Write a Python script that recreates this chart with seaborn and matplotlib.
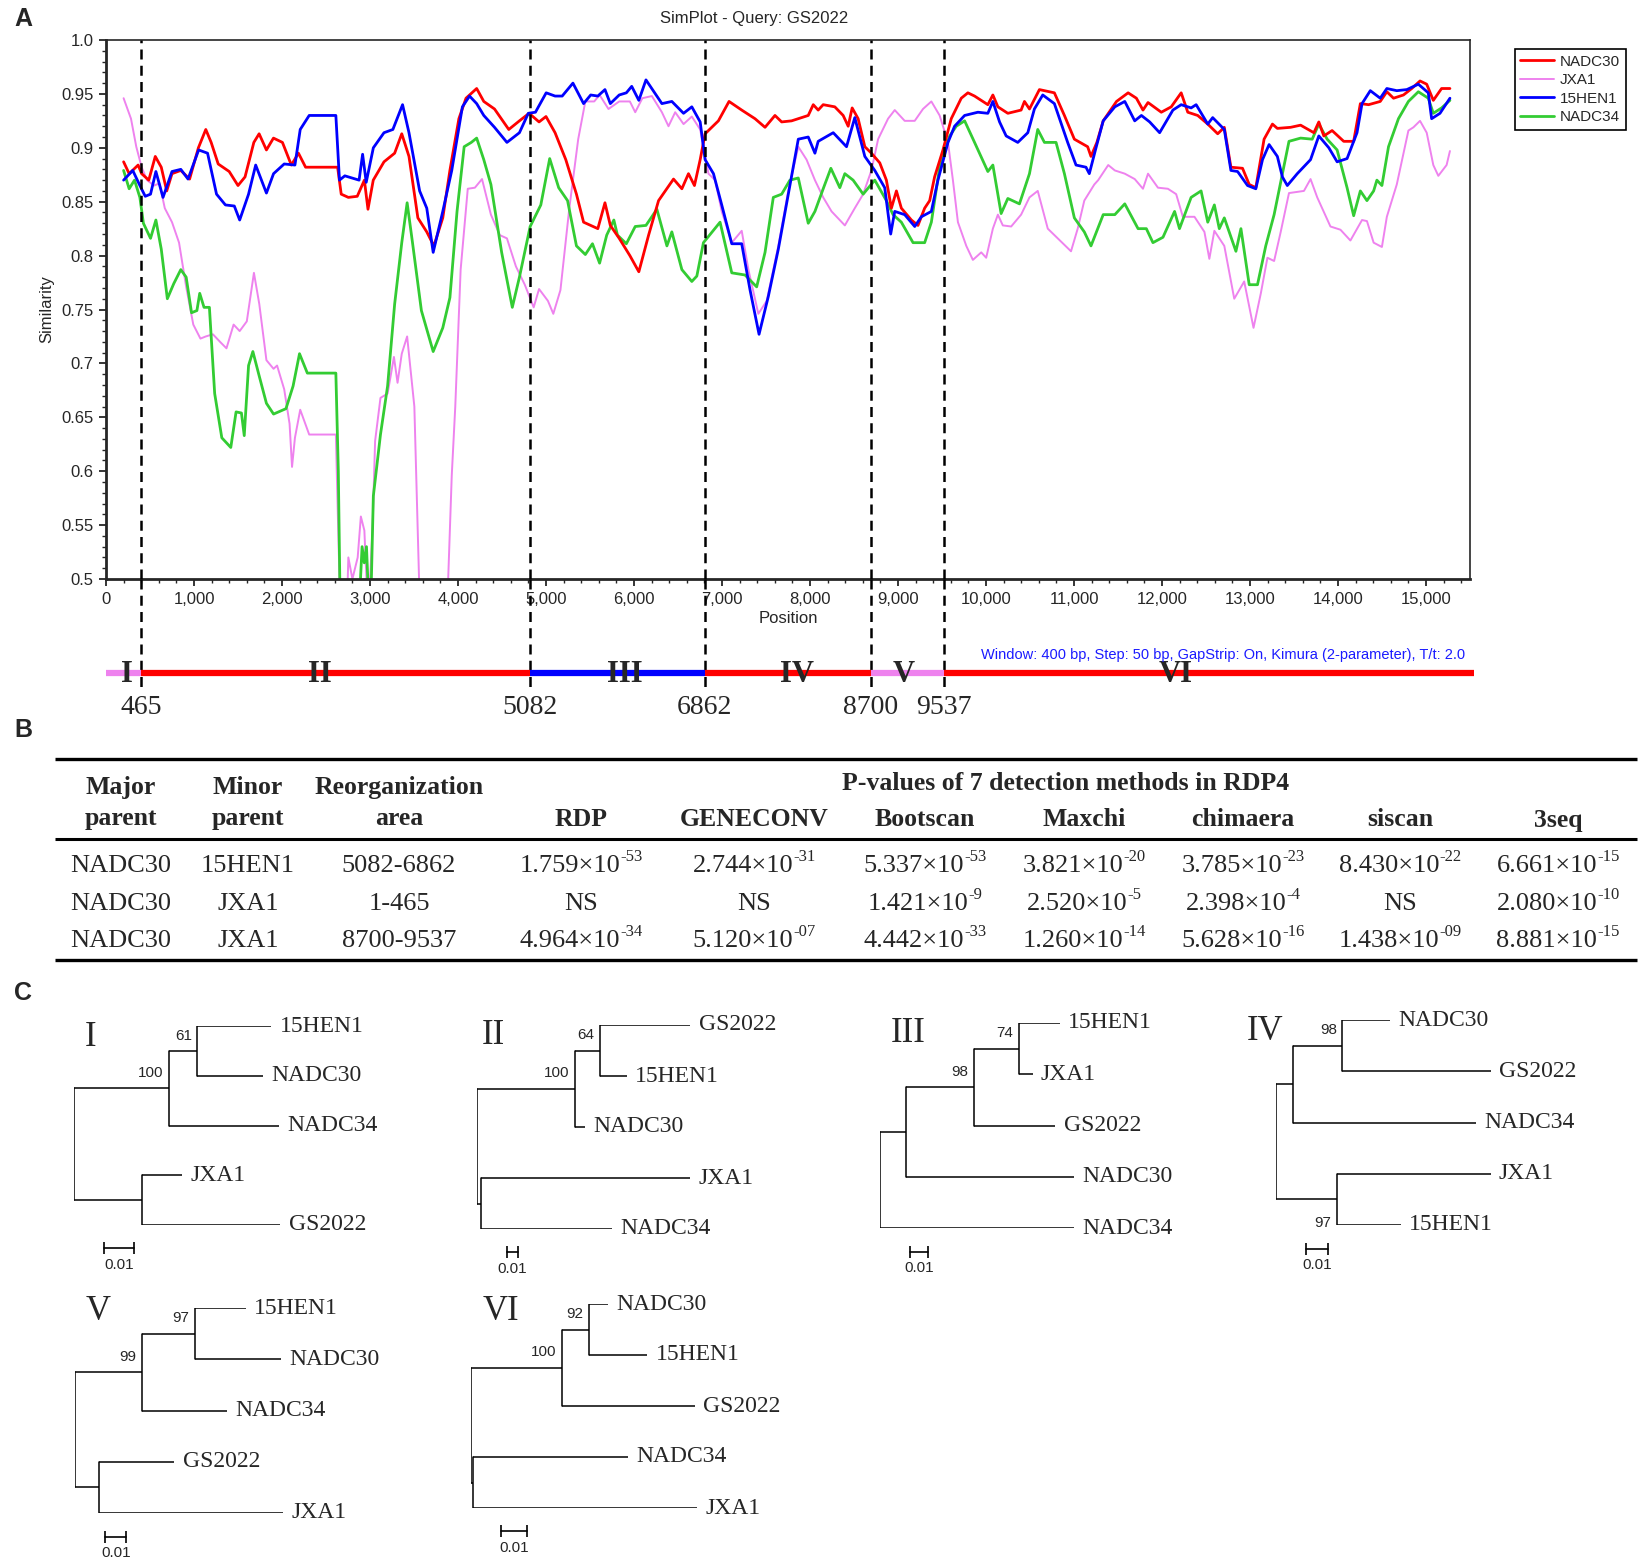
import matplotlib
matplotlib.use("Agg")
import matplotlib.pyplot as plt
from matplotlib.ticker import MultipleLocator, FuncFormatter
import pandas as pd
import seaborn as sns

# ---------------- panel A : SimPlot curves (position, similarity) ----------------
nadc30_pos = [200, 263, 365, 405, 486, 560, 628, 690, 750, 850, 950, 1050, 1134, 1195, 1275, 1400, 1500, 1580,
              1680, 1740, 1823, 1903, 2005, 2106, 2187, 2268, 2632, 2673, 2754, 2855, 2936, 2977, 3037, 3159,
              3280, 3361, 3443, 3544, 3645, 3726, 3827, 3908, 4010, 4091, 4212, 4293, 4415, 4577, 4698, 4808,
              4921, 5000, 5103, 5225, 5346, 5427, 5589, 5670, 5731, 5832, 5953, 6055, 6166, 6279, 6449, 6544,
              6619, 6687, 6752, 6808, 6959, 7080, 7224, 7375, 7489, 7602, 7678, 7791, 7980, 8037, 8093, 8150,
              8282, 8377, 8434, 8479, 8547, 8623, 8698, 8793, 8868, 8925, 8982, 9038, 9152, 9227, 9303, 9360,
              9416, 9511, 9605, 9719, 9794, 9870, 10021, 10078, 10135, 10248, 10399, 10437, 10494, 10607,
              10777, 10891, 11004, 11155, 11193, 11260, 11332, 11483, 11615, 11709, 11784, 11841, 11992,
              12105, 12218, 12293, 12406, 12520, 12633, 12708, 12783, 12915, 12991, 13066, 13160, 13255,
              13311, 13462, 13575, 13726, 13782, 13839, 13933, 14065, 14178, 14254, 14348, 14480, 14555,
              14631, 14744, 14838, 14932, 15008, 15083, 15177, 15272]
nadc30_sim = [.887, .876, .884, .876, .870, .892, .882, .860, .876, .879, .871, .900, .917, .905, .885, .878, .865, .873,
              .905, .913, .898, .909, .905, .884, .895, .882, .882, .857, .854, .855, .870, .843, .870, .887,
              .895, .913, .892, .835, .822, .809, .835, .879, .927, .946, .955, .943, .936, .917, .925, .932,
              .924, .929, .914, .889, .857, .831, .825, .849, .828, .816, .800, .785, .819, .851, .871, .862,
              .876, .865, .889, .913, .925, .943, .935, .927, .919, .930, .924, .925, .930, .940, .935, .940,
              .938, .930, .920, .937, .927, .901, .895, .886, .870, .844, .860, .844, .833, .828, .844, .851,
              .873, .898, .927, .946, .951, .948, .940, .949, .938, .932, .935, .943, .936, .954,
              .951, .930, .908, .901, .892, .905, .925, .943, .951, .946, .935, .942, .933,
              .938, .951, .933, .930, .922, .913, .919, .882, .881, .866, .863, .908, .922,
              .918, .919, .921, .914, .924, .911, .916, .906, .906, .941, .940, .943, .952,
              .946, .949, .955, .962, .959, .944, .955, .955]

jxa1_pos = [200, 284, 344, 405, 466, 547, 608, 668, 750, 830, 911, 992, 1073, 1134, 1215, 1296, 1369, 1450, 1519,
            1600, 1681, 1742, 1823, 1904, 1944, 2025, 2086, 2114, 2147, 2207, 2309, 2612, 2633, 2660, 2740, 2754,
            2800, 2860, 2896, 2936, 2960, 2990, 3030, 3058, 3119, 3200, 3272, 3313, 3361, 3422, 3504, 3564, 3880,
            3929, 3969, 4030, 4111, 4192, 4273, 4374, 4475, 4556, 4658, 4759, 4860, 4921, 5022, 5083, 5164, 5265,
            5366, 5447, 5548, 5609, 5710, 5832, 5953, 6014, 6095, 6203, 6317, 6392, 6468, 6563, 6657, 6752, 6846,
            6922, 6997, 7111, 7224, 7300, 7413, 7508, 7640, 7753, 7867, 7961, 8056, 8150, 8245, 8396, 8509, 8604,
            8698, 8774, 8887, 8963, 9076, 9190, 9284, 9379, 9473, 9568, 9624, 9681, 9776, 9851, 9946, 10002,
            10078, 10135, 10191, 10286, 10399, 10494, 10588, 10702, 10815, 10966, 11042, 11117, 11231, 11275,
            11389, 11464, 11577, 11690, 11784, 11841, 11954, 12067, 12161, 12237, 12369, 12482, 12538, 12595,
            12708, 12821, 12934, 13040, 13123, 13198, 13274, 13349, 13443, 13613, 13688, 13764, 13914, 14028,
            14141, 14273, 14329, 14405, 14499, 14555, 14668, 14800, 14857, 14932, 15008, 15083, 15140, 15234, 15272]
jxa1_sim = [.946, .927, .901, .882, .870, .865, .867, .844, .831, .812, .771, .736, .723, .725, .727, .720, .714, .736, .730,
            .739, .784, .755, .703, .695, .698, .676, .644, .604, .631, .657, .634, .634, .564, .48, .48, .52,
            .50, .52, .558, .545, .50, .48, .55, .628, .668, .672, .706, .682, .709, .725, .660, .48, .48,
            .596, .660, .787, .862, .863, .871, .838, .819, .816, .790, .773, .752, .769, .758, .746, .768, .844,
            .908, .943, .943, .949, .936, .943, .943, .933, .946, .948, .933, .920, .933, .922, .929, .917, .876,
            .870, .841, .812, .823, .787, .746, .758, .809, .860, .901, .889, .870, .854, .841, .828, .844, .857,
            .879, .908, .927, .935, .925, .925, .936, .943, .930, .905, .870, .831, .809, .796, .803, .798,
            .825, .838, .828, .827, .838, .854, .860, .825, .816, .804, .825, .851, .866, .870,
            .884, .879, .876, .871, .862, .876, .863, .862, .857, .836, .836, .822, .797, .823,
            .809, .760, .776, .733, .765, .798, .795, .822, .858, .860, .871, .854, .827, .824,
            .814, .833, .832, .812, .808, .836, .866, .916, .919, .925, .914, .884, .874, .884, .897]

hen1_pos = [200, 304, 385, 446, 506, 567, 648, 750, 850, 932, 1053, 1154, 1256, 1357, 1458, 1519, 1620, 1701, 1823,
            1904, 2025, 2147, 2207, 2309, 2612, 2653, 2714, 2876, 2916, 2957, 3038, 3159, 3260, 3370, 3443, 3564,
            3645, 3718, 3827, 3929, 4050, 4131, 4212, 4293, 4415, 4556, 4698, 4799, 4880, 5002, 5103, 5184, 5306,
            5427, 5508, 5589, 5670, 5731, 5832, 5913, 5974, 6055, 6136, 6317, 6430, 6563, 6657, 6752, 6808, 6903,
            6997, 7111, 7224, 7319, 7421, 7526, 7640, 7753, 7867, 7980, 8056, 8093, 8264, 8415, 8509, 8623, 8736,
            8849, 8917, 8963, 9076, 9190, 9265, 9379, 9454, 9568, 9643, 9757, 9908, 10021, 10078, 10154, 10229,
            10361, 10475, 10550, 10645, 10777, 10928, 11023, 11136, 11174, 11250, 11332, 11464, 11577, 11690,
            11766, 11860, 11973, 12124, 12218, 12331, 12388, 12520, 12576, 12708, 12783, 12859, 12972, 13066,
            13142, 13217, 13311, 13368, 13424, 13537, 13688, 13782, 13896, 13990, 14103, 14216, 14273, 14367,
            14480, 14555, 14668, 14782, 14913, 15026, 15064, 15159, 15272]
hen1_sim = [.870, .879, .865, .855, .857, .878, .854, .878, .880, .871, .898, .895, .857, .847, .846, .833, .857, .884, .858,
            .876, .885, .884, .917, .930, .930, .870, .874, .870, .894, .868, .900, .914, .917, .940, .914, .860,
            .844, .803, .841, .879, .938, .948, .941, .930, .919, .905, .914, .932, .933, .951, .948, .948, .960,
            .941, .949, .948, .954, .941, .949, .951, .957, .944, .963, .941, .943, .932, .938, .924, .889, .876,
            .847, .811, .811, .768, .727, .762, .806, .857, .908, .910, .895, .906, .914, .901, .928, .892, .879,
            .863, .820, .841, .838, .827, .836, .841, .870, .905, .920, .930, .933, .932, .943, .924, .911,
            .905, .914, .936, .949, .941, .905, .884, .882, .876, .900, .925, .938, .943, .925,
            .930, .924, .914, .935, .940, .937, .940, .922, .928, .917, .879, .878, .865, .862,
            .889, .903, .892, .873, .865, .876, .889, .911, .900, .887, .890, .914, .941, .953,
            .946, .955, .953, .954, .959, .951, .927, .932, .946]

nadc34_pos = [200, 263, 324, 385, 425, 506, 567, 628, 697, 770, 850, 911, 972, 1033, 1065, 1114, 1175, 1235, 1316,
              1418, 1478, 1539, 1571, 1620, 1669, 1742, 1823, 1904, 2045, 2126, 2199, 2288, 2612, 2640, 2660, 2880,
              2910, 2935, 2960, 2985, 3010, 3038, 3119, 3200, 3280, 3361, 3422, 3483, 3584, 3718, 3827, 3908, 3989,
              4070, 4151, 4212, 4293, 4374, 4496, 4617, 4698, 4820, 4941, 5042, 5144, 5245, 5346, 5447, 5528, 5609,
              5690, 5771, 5812, 5913, 6014, 6136, 6260, 6374, 6430, 6544, 6657, 6714, 6789, 6978, 7111, 7262, 7394,
              7489, 7583, 7678, 7772, 7867, 7980, 8056, 8150, 8237, 8339, 8396, 8490, 8604, 8736, 8868, 8944, 9038,
              9171, 9303, 9379, 9473, 9587, 9662, 9757, 9870, 10021, 10078, 10172, 10248, 10380, 10494, 10588,
              10664, 10796, 10891, 11004, 11117, 11193, 11332, 11464, 11577, 11728, 11822, 11897, 12011, 12143,
              12199, 12331, 12444, 12520, 12595, 12651, 12708, 12840, 12897, 12991, 13085, 13179, 13274, 13368,
              13443, 13575, 13707, 13782, 13877, 13990, 14103, 14178, 14254, 14329, 14405, 14442, 14499, 14574,
              14687, 14800, 14913, 15026, 15083, 15177, 15272]
nadc34_sim = [.879, .862, .870, .854, .830, .816, .833, .806, .760, .774, .787, .780, .747, .749, .765, .752, .752, .672, .631,
              .622, .655, .654, .633, .698, .711, .688, .663, .653, .658, .679, .709, .691, .691, .60, .48, .48,
              .53, .515, .53, .48, .48, .577, .634, .679, .755, .812, .849, .812, .749, .711, .733, .761, .841,
              .901, .905, .909, .889, .866, .803, .752, .780, .827, .847, .890, .863, .851, .809, .801, .811, .793,
              .819, .833, .819, .811, .827, .828, .843, .809, .822, .787, .776, .781, .812, .831, .784, .782, .771,
              .803, .854, .857, .870, .872, .830, .841, .862, .881, .863, .876, .870, .857, .870, .851, .838, .831,
              .812, .812, .831, .882, .911, .920, .925, .905, .878, .884, .839, .853, .848, .876, .917,
              .905, .905, .876, .835, .822, .809, .838, .838, .848, .825, .825, .812, .817, .841,
              .825, .854, .860, .831, .847, .825, .835, .804, .825, .773, .773, .809, .838, .876,
              .906, .909, .908, .922, .908, .898, .863, .837, .860, .851, .860, .870, .865, .901,
              .927, .943, .952, .946, .932, .937, .944]

strains = ["NADC30", "JXA1", "15HEN1", "NADC34"]
strain_colors = {"NADC30": "#ff0000", "JXA1": "#ee82ee", "15HEN1": "#0000ff", "NADC34": "#33cc33"}

cut_x = [395, 4814, 6802, 8690, 9523]
cut_labels = ["465", "5082", "6862", "8700", "9537"]
seg_start = [0, 395, 4814, 6802, 8690, 9523]
seg_end = [395, 4814, 6802, 8690, 9523, 15550]
seg_colors = ["#ee82ee", "#ff0000", "#0000ff", "#ff0000", "#ee82ee", "#ff0000"]
region_names = ["I", "II", "III", "IV", "V", "VI"]
region_label_x = [233, 2430, 5900, 7850, 9070, 12160]
ytick_vals = [0.5, 0.55, 0.6, 0.65, 0.7, 0.75, 0.8, 0.85, 0.9, 0.95, 1.0]
ytick_labels = ["0.5", "0.55", "0.6", "0.65", "0.7", "0.75", "0.8", "0.85", "0.9", "0.95", "1.0"]

# ---------------- panel B : RDP4 table ----------------
head_cols = ["Major\nparent", "Minor\nparent", "Reorganization\narea"]
methods = ["RDP", "GENECONV", "Bootscan", "Maxchi", "chimaera", "siscan", "3seq"]
major_parent = ["NADC30", "NADC30", "NADC30"]
minor_parent = ["15HEN1", "JXA1", "JXA1"]
reorg_area = ["5082-6862", "1-465", "8700-9537"]
# (mantissa, exponent) or "NS"
pvals = [
    [("1.759", "-53"), ("2.744", "-31"), ("5.337", "-53"), ("3.821", "-20"), ("3.785", "-23"), ("8.430", "-22"), ("6.661", "-15")],
    ["NS", "NS", ("1.421", "-9"), ("2.520", "-5"), ("2.398", "-4"), "NS", ("2.080", "-10")],
    [("4.964", "-34"), ("5.120", "-07"), ("4.442", "-33"), ("1.260", "-14"), ("5.628", "-16"), ("1.438", "-09"), ("8.881", "-15")],
]

# ---------------- panel C : trees (newick, branch lengths in substitutions/site) ----------------
tree_names = ["I", "II", "III", "IV", "V", "VI"]
tree_newick = [
    "(((15HEN1:0.0246,NADC30:0.0217)61:0.0093,NADC34:0.0364)100:0.0317,(JXA1:0.0132,GS2022:0.0458):0.0227);",
    "(((GS2022:0.0805,15HEN1:0.0236)64:0.0227,NADC30:0.0091)100:0.0873,(JXA1:0.187,NADC34:0.117):0.0036);",
    "((((15HEN1:0.0234,JXA1:0.0077)74:0.0257,GS2022:0.0463)98:0.0389,NADC30:0.096):0.0149,NADC34:0.1109);",
    "(((NADC30:0.0218,GS2022:0.0673)98:0.0227,NADC34:0.0832):0.0075,(JXA1:0.0698,15HEN1:0.0289)97:0.0277);",
    "(((15HEN1:0.0238,NADC30:0.0405)97:0.0245,NADC34:0.0395)99:0.0314,(GS2022:0.035,JXA1:0.0857):0.0114);",
    "(((NADC30:0.0076,15HEN1:0.023)92:0.0104,GS2022:0.052)100:0.0358,(NADC34:0.0608,JXA1:0.088):0.0006);",
]
support_below = {"IV": ["97"]}


def parse_newick(s):
    s = s.strip().rstrip(";")
    pos = 0

    def node():
        nonlocal pos
        kids = []
        if s[pos] == "(":
            pos += 1
            kids.append(node())
            while s[pos] == ",":
                pos += 1
                kids.append(node())
            pos += 1
        start = pos
        while pos < len(s) and s[pos] not in ",():":
            pos += 1
        name = s[start:pos]
        length = 0.0
        if pos < len(s) and s[pos] == ":":
            pos += 1
            start = pos
            while pos < len(s) and s[pos] not in ",()":
                pos += 1
            length = float(s[start:pos])
        return {"name": name, "len": length, "kids": kids}

    return node()


def layout(nd, x0, leaves):
    nd["x"] = x0 + nd["len"]
    if nd["kids"]:
        for k in nd["kids"]:
            layout(k, nd["x"], leaves)
        nd["y"] = (nd["kids"][0]["y"] + nd["kids"][-1]["y"]) / 2
    else:
        nd["y"] = len(leaves)
        leaves.append(nd)


def draw_tree(ax, nd, below):
    kids = nd["kids"]
    for k in kids:
        ax.plot([nd["x"], k["x"]], [k["y"], k["y"]], color="k", lw=1.1, solid_capstyle="butt")
        draw_tree(ax, k, below)
    if kids:
        ax.plot([nd["x"], nd["x"]], [kids[0]["y"], kids[-1]["y"]], color="k", lw=1.1)
        if nd["name"]:
            off = (-4, -17) if nd["name"] in below else (-4, 11)
            ax.annotate(nd["name"], (nd["x"], nd["y"]), xytext=off, textcoords="offset points",
                        ha="right", va="center", fontsize=11, family=["Liberation Sans"])
    else:
        ax.annotate(nd["name"], (nd["x"], nd["y"]), xytext=(6, 0), textcoords="offset points",
                    ha="left", va="center", fontsize=17, family=["Liberation Serif"])


# ---------------- figure ----------------
sns.set_style("ticks")
plt.rcParams["font.family"] = ["Liberation Sans", "DejaVu Sans"]

W, H = 1642, 1560
fig = plt.figure(figsize=(W / 100, H / 100), dpi=100)


def fx(px):
    return px / W


def fy(py):
    return 1 - py / H


serif = ["Liberation Serif", "DejaVu Serif"]

# page overlay in pixel units (table, letters)
page = fig.add_axes([0, 0, 1, 1])
page.set_xlim(0, W)
page.set_ylim(H, 0)
page.axis("off")

# ---- A ----
ax = fig.add_axes([fx(106), fy(579), fx(1470) - fx(106), (579 - 40) / H])
series = {"NADC30": (nadc30_pos, nadc30_sim), "JXA1": (jxa1_pos, jxa1_sim),
          "15HEN1": (hen1_pos, hen1_sim), "NADC34": (nadc34_pos, nadc34_sim)}
widths = {"NADC30": 2.0, "JXA1": 1.4, "15HEN1": 2.0, "NADC34": 2.0}
for name in ["JXA1", "NADC34", "NADC30", "15HEN1"]:
    p, v = series[name]
    d = pd.DataFrame({"pos": p, "sim": v})
    sns.lineplot(data=d, x="pos", y="sim", ax=ax, color=strain_colors[name], linewidth=widths[name],
                 estimator=None, sort=False, label=name)

for c in cut_x:
    ax.axvline(c, color="k", lw=1.8, linestyle=(0, (4, 2.5)), zorder=5)

ax.set_xlim(0, 15500)
ax.set_ylim(0.5, 1.0)
ax.set_xticks(range(0, 15001, 1000))
ax.xaxis.set_major_formatter(FuncFormatter(lambda v, _: f"{int(v):,}"))
ax.xaxis.set_minor_locator(MultipleLocator(200))
ax.set_yticks(ytick_vals)
ax.set_yticklabels(ytick_labels)
ax.yaxis.set_minor_locator(MultipleLocator(0.01))
ax.tick_params(which="major", length=5, width=1.3, labelsize=12, pad=4)
ax.tick_params(which="minor", length=3, width=1.0)
for s in ["left", "bottom"]:
    ax.spines[s].set_linewidth(2.0)
for s in ["top", "right"]:
    ax.spines[s].set_linewidth(1.2)
ax.set_xlabel("Position", fontsize=12)
ax.set_ylabel("Similarity", fontsize=12)
ax.xaxis.set_label_coords(0.5, -0.06)
ax.yaxis.set_label_coords(-0.038, 0.5)

h, l = ax.get_legend_handles_labels()
hmap = dict(zip(l, h))
leg = ax.legend([hmap[n] for n in strains], strains, loc="upper left", bbox_to_anchor=(1.033, 0.983),
                borderaxespad=0, fontsize=11, handlelength=2.2, handletextpad=0.4, labelspacing=0.3,
                borderpad=0.35, fancybox=False, framealpha=1, edgecolor="k")
leg.get_frame().set_linewidth(1.2)

fig.text(fx(754), fy(18), "SimPlot - Query: GS2022", ha="center", va="center", fontsize=12)

# segment bar under the plot (y in pixels)
axb = fig.add_axes([fx(106), fy(730), fx(1470) - fx(106), (730 - 579) / H])
axb.set_xlim(0, 15500)
axb.set_ylim(730, 579)
axb.axis("off")
axb.vlines(cut_x, 579, 688, colors="k", lw=1.8, linestyles=[(0, (4, 2.5))])
axb.hlines([673] * len(seg_start), seg_start, seg_end, colors=seg_colors, lw=4.5, clip_on=False)
for x, t in zip(region_label_x, region_names):
    axb.text(x, 675, t, ha="center", va="center", fontsize=22, fontweight="bold", family=serif)
for x, t in zip(cut_x, cut_labels):
    axb.text(x, 707, t, ha="center", va="center", fontsize=20, family=serif)
axb.text(15440, 655, "Window: 400 bp, Step: 50 bp, GapStrip: On, Kimura (2-parameter), T/t: 2.0",
         ha="right", va="center", fontsize=10.5, color="#1a1aff")

# ---- B : table ----
page.hlines([759, 960], 55, 1637, colors="k", lw=2.4)
page.hlines(839, 55, 1637, colors="k", lw=2.2)
head_x = [121, 248, 399]
meth_x = [581, 754, 925, 1084, 1243, 1400, 1558]
for x, t in zip(head_x, head_cols):
    page.text(x, 803, t, ha="center", va="center", multialignment="center", fontsize=18.5,
              fontweight="bold", family=serif, linespacing=1.45)
page.text(1066, 783, "P-values of 7 detection methods in RDP4", ha="center", va="center",
          fontsize=18.5, fontweight="bold", family=serif)
for x, t in zip(meth_x, methods):
    page.text(x, 820, t, ha="center", va="center", fontsize=18.5, fontweight="bold", family=serif)
row_y = [866, 904, 941]
fig.canvas.draw()
renderer = fig.canvas.get_renderer()
for i, y in enumerate(row_y):
    for x, t in zip(head_x, [major_parent[i], minor_parent[i], reorg_area[i]]):
        page.text(x, y, t, ha="center", va="center", fontsize=19, family=serif)
    for x, cell in zip(meth_x, pvals[i]):
        if isinstance(cell, str):
            page.text(x, y, cell, ha="center", va="center", fontsize=19, family=serif)
            continue
        mant, exp = cell
        base = page.text(0, y, mant + "×10", ha="left", va="center", fontsize=19, family=serif)
        sup = page.text(0, y - 9, exp, ha="left", va="center", fontsize=12, family=serif)
        wb = base.get_window_extent(renderer).width
        ws = sup.get_window_extent(renderer).width
        x0 = x - (wb + ws) / 2
        base.set_x(x0)
        sup.set_x(x0 + wb)

# panel letters
for t, (x, y) in zip(["A", "B", "C"], [(23, 19), (23, 730), (23, 993)]):
    page.text(x, y, t, ha="center", va="center", fontsize=18, fontweight="bold")

# ---- C : trees ----
tree_root_x = [74, 477, 880, 1276, 75, 471]
tree_top_y = [1026, 1025, 1023, 1020, 1308, 1304]
tree_bot_y = [1225, 1229, 1228, 1225, 1513, 1508]
tree_scale_px = [30.1, 11.2, 17.5, 22.0, 21.4, 25.5]
tree_label_xy = [(91, 1037), (493, 1035), (908, 1033), (1265, 1032), (98, 1311), (501, 1312)]
tw = 360
for name, nwk, rx, ty, by, spx, (lx, ly) in zip(tree_names, tree_newick, tree_root_x, tree_top_y,
                                                tree_bot_y, tree_scale_px, tree_label_xy):
    root = parse_newick(nwk)
    leaves = []
    layout(root, 0.0, leaves)
    n = len(leaves)
    axt = fig.add_axes([fx(rx), fy(by), tw / W, (by - ty) / H])
    axt.set_xlim(0, tw / spx * 0.01)
    axt.set_ylim(n - 1, 0)
    axt.axis("off")
    draw_tree(axt, root, support_below.get(name, []))
    # scale bar
    x0 = 30 / spx * 0.01
    yb = n - 1 + 0.46
    axt.plot([x0, x0 + 0.01], [yb, yb], color="k", lw=1.2, marker="|", markersize=9,
             markeredgewidth=1.2, clip_on=False)
    axt.annotate("0.01", (x0 + 0.005, yb), xytext=(0, -7), textcoords="offset points",
                 ha="center", va="top", fontsize=11, annotation_clip=False)
    page.text(lx, ly, name, ha="center", va="center", fontsize=25, family=serif)

fig.savefig("out.png", dpi=100)
